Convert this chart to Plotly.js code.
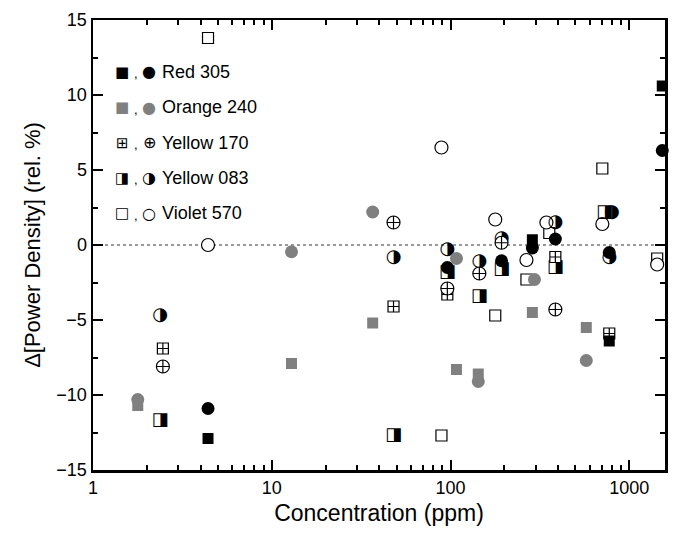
<!DOCTYPE html>
<html>
<head>
<meta charset="utf-8">
<script src="https://cdn.plot.ly/plotly-3.0.1.min.js"></script>
<style>html,body{margin:0;padding:0;background:#fff}</style>
</head>
<body>
<div id="chart" style="width:675px;height:543px"></div>
<script>
// ---- data ----
const redSqX = [4.4, 287, 773, 1530];
const redSqY = [-12.9, 0.35, -6.4, 10.6];
const redCiX = [4.4, 96, 193, 287, 386, 773, 1530];
const redCiY = [-10.9, -1.5, -1.05, -0.2, 0.4, -0.5, 6.3];

const orSqX = [1.78, 12.9, 36.7, 108, 143, 287, 575];
const orSqY = [-10.7, -7.9, -5.2, -8.3, -8.6, -4.5, -5.5];
const orCiX = [1.78, 12.9, 36.7, 108, 143, 295, 575];
const orCiY = [-10.3, -0.45, 2.2, -0.9, -9.1, -2.3, -7.7];

const y170SqX = [2.46, 48, 96, 386, 773];
const y170SqY = [-6.9, -4.1, -3.3, -0.8, -5.9];
const y170CiX = [2.46, 48, 96, 145, 193, 386];
const y170CiY = [-8.1, 1.5, -2.9, -1.9, 0.15, -4.3];

const y083SqX = [2.37, 48, 96, 145, 193, 386, 728];
const y083SqY = [-11.7, -12.7, -1.85, -3.45, -1.6, -1.5, 2.15];
const y083CiX = [2.37, 48, 96, 145, 193, 386, 773, 800];
const y083CiY = [-4.7, -0.8, -0.3, -1.1, 0.45, 1.5, -0.85, 2.2];

const vioSqX = [4.4, 89, 178, 266, 357, 707, 1433];
const vioSqY = [13.8, -12.7, -4.7, -2.3, 0.8, 5.1, -0.9];
const vioCiX = [4.4, 89, 178, 266, 344, 707, 1433];
const vioCiY = [0.0, 6.5, 1.7, -1.0, 1.5, 1.4, -1.3];

const seriesNames = ['Red 305', 'Orange 240', 'Yellow 170', 'Yellow 083', 'Violet 570'];

const GRAY = '#808080';
const lineBlack = {color: '#000', width: 1.2};

function mk(x, y, symbol, color, size, line) {
  return {x: x, y: y, type: 'scatter', mode: 'markers', showlegend: false, hoverinfo: 'x+y', cliponaxis: false,
    marker: {symbol: symbol, color: color, size: size, line: line || {width: 0}}};
}
function txt(x, y, glyph, size) {
  return {x: x, y: y, type: 'scatter', mode: 'text', showlegend: false, hoverinfo: 'x+y', cliponaxis: false,
    text: x.map(() => glyph), textposition: 'middle center',
    textfont: {family: 'DejaVu Sans', size: size, color: '#000'}};
}

const traces = [
  mk(vioSqX, vioSqY, 'square', '#fff', 11, lineBlack),
  mk(vioCiX, vioCiY, 'circle', '#fff', 13, lineBlack),
  txt(y083SqX, y083SqY, '\u25E8', 18),
  txt(y083CiX, y083CiY, '\u25D1', 18),
  mk(y170SqX, y170SqY, 'square-cross', '#fff', 11, lineBlack),
  mk(y170CiX, y170CiY, 'circle-cross', '#fff', 13, lineBlack),
  mk(orSqX, orSqY, 'square', GRAY, 11),
  mk(orCiX, orCiY, 'circle', GRAY, 13),
  mk(redSqX, redSqY, 'square', '#000', 11),
  mk(redCiX, redCiY, 'circle', '#000', 13),
];

// legend built from annotations
const legSq = ['\u25A0', '\u25A0', '\u229E', '\u25E8', '\u25A1'];
const legCi = ['\u25CF', '\u25CF', '\u2295', '\u25D1', '\u25CB'];
const legCol = ['#000', GRAY, '#000', '#000', '#000'];
const annotations = [];
seriesNames.forEach((name, i) => {
  const yp = 52 + i * 35.3; // px from top of plot
  const yy = 1 - (yp) / 450;
  annotations.push({xref: 'paper', yref: 'paper', x: 29 / 572, y: yy, xanchor: 'center', yanchor: 'middle',
    text: legSq[i], showarrow: false, font: {family: 'DejaVu Sans', size: 15, color: legCol[i]}});
  annotations.push({xref: 'paper', yref: 'paper', x: 43 / 572, y: yy - 0.004, xanchor: 'center', yanchor: 'middle',
    text: ',', showarrow: false, font: {family: 'Liberation Sans, Arial', size: 13, color: '#000'}});
  annotations.push({xref: 'paper', yref: 'paper', x: 56 / 572, y: yy, xanchor: 'center', yanchor: 'middle',
    text: legCi[i], showarrow: false, font: {family: 'DejaVu Sans', size: 16, color: legCol[i]}});
  annotations.push({xref: 'paper', yref: 'paper', x: 67 / 572, y: yy, xanchor: 'left', yanchor: 'middle',
    text: name, showarrow: false, font: {family: 'Liberation Sans, Arial', size: 18, color: '#000'}});
});

const axisCommon = {
  showline: true, linecolor: '#000', linewidth: 2.5, mirror: 'allticks',
  ticks: 'inside', ticklen: 10, tickwidth: 2, tickcolor: '#000',
  showgrid: false, zeroline: false,
  tickfont: {family: 'Liberation Sans, Arial', size: 18, color: '#000'}
};

const layout = {
  width: 675, height: 543,
  margin: {l: 93, r: 10, t: 20, b: 73},
  paper_bgcolor: '#fff', plot_bgcolor: '#fff',
  showlegend: false,
  xaxis: Object.assign({}, axisCommon, {
    type: 'log', range: [0, 3.2], tickvals: [1, 10, 100, 1000], ticktext: ['1', '10', '100', '1000'],
    minor: {ticks: 'inside', ticklen: 5, tickwidth: 2, tickcolor: '#000', tickvals: [2,3,4,5,6,7,8,9,20,30,40,50,60,70,80,90,200,300,400,500,600,700,800,900]},
    title: {text: 'Concentration (ppm)', font: {family: 'Liberation Sans, Arial', size: 23, color: '#000'}, standoff: 8}
  }),
  yaxis: Object.assign({}, axisCommon, {
    range: [-15, 15], dtick: 5, tick0: 0,
    minor: {ticks: 'inside', ticklen: 5, tickwidth: 2, tickcolor: '#000', dtick: 2.5},
    title: {text: '\u0394[Power Density] (rel. %)', font: {family: 'Liberation Sans, Arial', size: 22, color: '#000'}, standoff: 10}
  }),
  shapes: [{type: 'line', xref: 'paper', x0: 0, x1: 1, yref: 'y', y0: 0, y1: 0,
    line: {color: '#999', width: 2, dash: 'dot'}, layer: 'below'}],
  annotations: annotations
};

Plotly.newPlot('chart', traces, layout, {displayModeBar: false, staticPlot: true});
</script>
</body>
</html>
